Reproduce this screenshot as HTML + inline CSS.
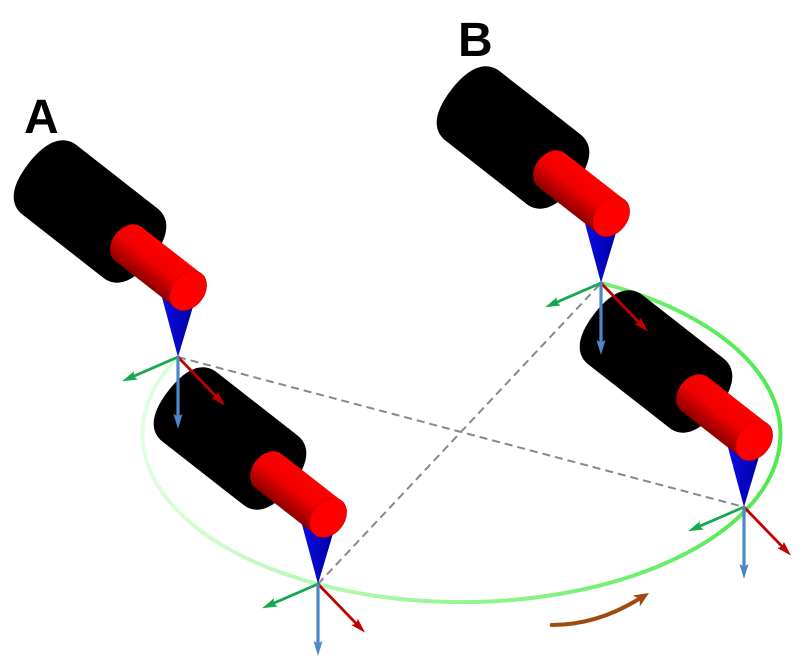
<!DOCTYPE html>
<html><head><meta charset="utf-8"><style>
html,body{margin:0;padding:0;background:#fff;width:803px;height:661px;overflow:hidden}
svg{display:block}
</style></head><body>
<svg width="803" height="661" viewBox="0 0 803 661" xmlns="http://www.w3.org/2000/svg">
<defs>
  <linearGradient id="ell" gradientUnits="userSpaceOnUse" x1="140" y1="0" x2="780" y2="0">
    <stop offset="0" stop-color="#e2fde2"/>
    <stop offset="0.3" stop-color="#b2f8b2"/>
    <stop offset="0.55" stop-color="#8ef58e"/>
    <stop offset="1" stop-color="#4eea4e"/>
  </linearGradient>
  <linearGradient id="redg" x1="0" y1="0" x2="0" y2="1">
    <stop offset="0" stop-color="#ff0000"/>
    <stop offset="0.5" stop-color="#f00000"/>
    <stop offset="1" stop-color="#8c0000"/>
  </linearGradient>
  <linearGradient id="coneg" x1="0" y1="0" x2="1" y2="0">
    <stop offset="0" stop-color="#0c0cec"/>
    <stop offset="1" stop-color="#00009c"/>
  </linearGradient>
  <marker id="mb" viewBox="0 0 15 9" refX="6" refY="4.5" markerWidth="15" markerHeight="9" orient="auto" markerUnits="userSpaceOnUse"><path d="M0,0 L15,4.5 L0,9 L2.5,4.5 z" fill="#4a88c8"/></marker>
  <marker id="mg" viewBox="0 0 15 9" refX="6" refY="4.5" markerWidth="15" markerHeight="9" orient="auto" markerUnits="userSpaceOnUse"><path d="M0,0 L15,4.5 L0,9 L2.5,4.5 z" fill="#16a84e"/></marker>
  <marker id="mr" viewBox="0 0 15 9" refX="6" refY="4.5" markerWidth="15" markerHeight="9" orient="auto" markerUnits="userSpaceOnUse"><path d="M0,0 L15,4.5 L0,9 L2.5,4.5 z" fill="#c00000"/></marker>

  <g id="tool">
    <g transform="translate(-88,-145.5) rotate(38)">
      <path d="M-51,-44 H51 C68.5,-44 78,-28.6 78,0 C78,28.6 68.5,44 51,44 H-51 C-68.5,44 -78,28.6 -78,0 C-78,-28.6 -68.5,-44 -51,-44 Z" fill="#000"/>
    </g>
    <polygon points="0,0 -18,-67 17,-57" fill="url(#coneg)"/>
    <g transform="translate(-19.7,-89.7) rotate(38)">
      <path d="M-38,-21.5 H38 V21.5 H-38 A16 21.5 0 0 1 -38 -21.5 Z" fill="url(#redg)"/>
      <ellipse cx="38" cy="0" rx="16" ry="21.5" fill="#ff0000" stroke="#d80000" stroke-width="0.8"/>
    </g>
  </g>

  <g id="axes">
    <line x1="0" y1="0" x2="-47.7" y2="20.7" stroke="#16a84e" stroke-width="2.8" marker-end="url(#mg)"/>
    <line x1="0" y1="0" x2="40.75" y2="42.2" stroke="#c00000" stroke-width="2.8" marker-end="url(#mr)"/>
    <line x1="0" y1="0" x2="0" y2="63" stroke="#4a88c8" stroke-width="3.2" marker-end="url(#mb)"/>
  </g>
</defs>

<!-- trajectory ellipse -->
<path d="M178,357 A319 168 0 1 0 601,283" fill="none" stroke="url(#ell)" stroke-width="4"/>

<!-- dashed lines -->
<line x1="178" y1="357" x2="744" y2="507" stroke="#888" stroke-width="2" stroke-dasharray="8 5"/>
<line x1="318" y1="584" x2="601" y2="283" stroke="#888" stroke-width="2" stroke-dasharray="8 5"/>

<!-- brown rotation arrow -->
<path d="M551.7,625 Q597.6,625 640,598.3" fill="none" stroke="#a04a10" stroke-width="4" stroke-linecap="round"/>
<polygon points="649,593 639.8,606.5 639.7,598.9 632.8,595.5" fill="#a04a10"/>

<!-- tools -->
<use href="#tool" x="178" y="357"/>
<use href="#tool" x="318" y="584"/>
<use href="#tool" x="601" y="283"/>
<use href="#tool" x="744" y="507"/>

<!-- axes -->
<use href="#axes" x="178" y="357"/>
<use href="#axes" x="318" y="584"/>
<use href="#axes" x="601" y="283"/>
<use href="#axes" x="744" y="507"/>

<!-- labels -->
<text x="24" y="133" font-family="Liberation Sans, Arial, sans-serif" font-weight="bold" font-size="48" fill="#000">A</text>
<text x="458" y="56" font-family="Liberation Sans, Arial, sans-serif" font-weight="bold" font-size="48" fill="#000">B</text>
</svg>
</body></html>
